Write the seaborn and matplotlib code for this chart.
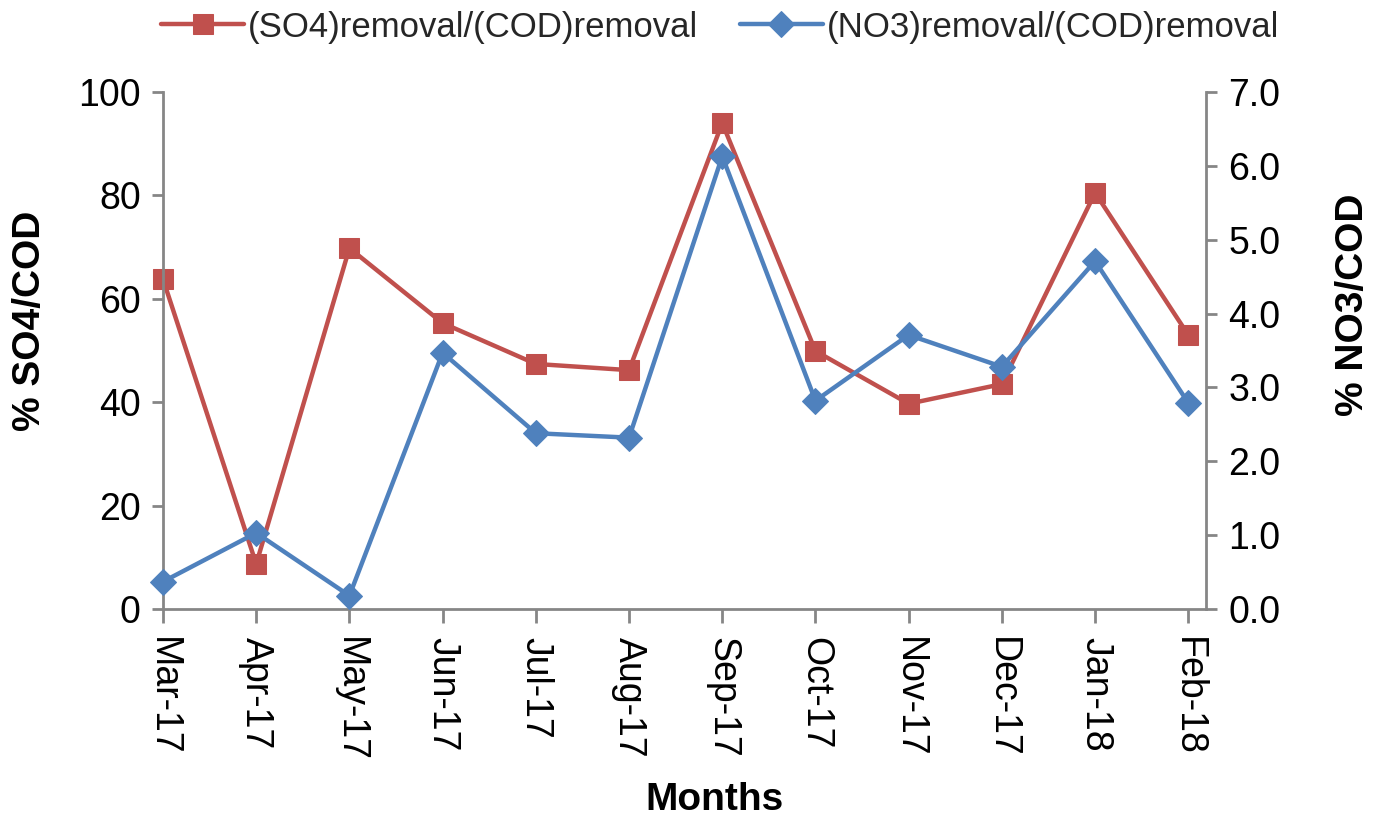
import matplotlib
matplotlib.use("Agg")
import matplotlib.pyplot as plt
import seaborn as sns
import numpy as np

months = ["Mar-17", "Apr-17", "May-17", "Jun-17", "Jul-17", "Aug-17",
          "Sep-17", "Oct-17", "Nov-17", "Dec-17", "Jan-18", "Feb-18"]
so4_cod = [63.8, 8.7, 69.8, 55.3, 47.4, 46.2, 94.0, 49.9, 39.7, 43.5, 80.5, 53.0]
no3_cod = [0.37, 1.03, 0.18, 3.47, 2.38, 2.32, 6.13, 2.82, 3.71, 3.28, 4.71, 2.79]
left_ticks = [0, 20, 40, 60, 80, 100]
right_ticks = [0.0, 1.0, 2.0, 3.0, 4.0, 5.0, 6.0, 7.0]

sns.set_style("white")
plt.rcParams['font.family'] = ['Liberation Sans', 'DejaVu Sans']

RED = "#C0504D"
BLUE = "#4F81BD"
GRAY = "#868686"

fig = plt.figure(figsize=(13.85, 8.21), dpi=100)
ax = fig.add_axes([163/1385, 1-609/821, (1206-163)/1385, (609-92)/821])
ax2 = ax.twinx()

x = np.arange(len(months))
sns.lineplot(x=x, y=so4_cod, ax=ax, color=RED, marker="s", markersize=14,
             linewidth=3.2, markeredgecolor=RED, label="(SO4)removal/(COD)removal",
             legend=False, clip_on=False)
sns.lineplot(x=x, y=no3_cod, ax=ax2, color=BLUE, marker="D", markersize=13,
             linewidth=3.2, markeredgecolor=BLUE, label="(NO3)removal/(COD)removal",
             legend=False, clip_on=False)

ax.set_xlim(0, 11.19)
ax.set_ylim(0, 100)
ax2.set_ylim(0, 7)
ax.set_yticks(left_ticks)
ax.set_yticklabels([str(t) for t in left_ticks])
ax2.set_yticks(right_ticks)
ax2.set_yticklabels([f"{t:.1f}" for t in right_ticks])
ax.set_xticks(x)
ax.set_xticklabels(months, rotation=-90)

for a in (ax, ax2):
    for s in a.spines.values():
        s.set_visible(False)
    a.grid(False)
ax.spines['left'].set_visible(True)
ax.spines['bottom'].set_visible(True)
ax2.spines['right'].set_visible(True)
for s in (ax.spines['left'], ax.spines['bottom'], ax2.spines['right']):
    s.set_color(GRAY)
    s.set_linewidth(2)

ax.tick_params(axis='y', direction='out', length=8, width=2, color=GRAY,
               labelsize=27, pad=8, left=True, labelcolor='black')
ax.tick_params(axis='x', direction='out', length=10, width=2, color=GRAY,
               labelsize=27, pad=10, bottom=True, labelcolor='black')
ax2.tick_params(axis='y', direction='out', length=8, width=2, color=GRAY,
                labelsize=27, pad=8, right=True, labelcolor='black')

ax.set_ylabel("% SO4/COD", fontsize=28, fontweight='bold', color='black')
ax2.set_ylabel("% NO3/COD", fontsize=28, fontweight='bold', color='black')
ax.set_xlabel("Months", fontsize=28, fontweight='bold', color='black')
ax.yaxis.label.set_va('center')
ax2.yaxis.label.set_va('center')
ax.xaxis.label.set_va('center')
ax.yaxis.set_label_coords((30-163)/1043, (609-321)/517)
ax2.yaxis.set_label_coords((1353-163)/1043, (609-305)/517)
ax.xaxis.set_label_coords((715-163)/1043, (609-800)/517)

h1, l1 = ax.get_legend_handles_labels()
h2, l2 = ax2.get_legend_handles_labels()
fig.legend(h1 + h2, l1 + l2, loc='center', bbox_to_anchor=(720/1385, 1-27/821),
           ncol=2, frameon=False, fontsize=25, handlelength=2.4,
           handletextpad=0.1, columnspacing=1.2)

fig.savefig("out.png", dpi=100)
